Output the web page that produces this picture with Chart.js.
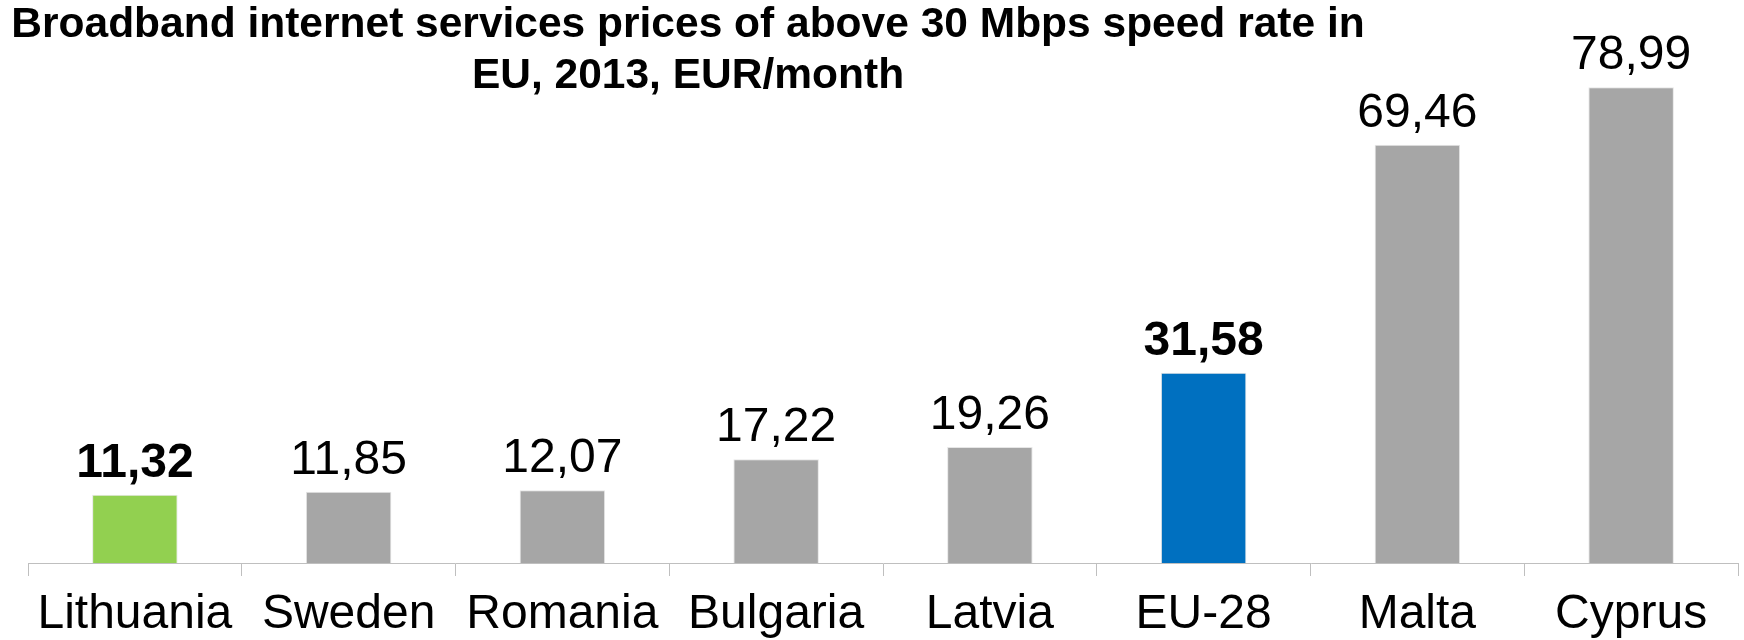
<!DOCTYPE html>
<html>
<head>
<meta charset="utf-8">
<script src="https://cdn.jsdelivr.net/npm/chart.js@4"></script>
<style>
  body { margin: 0; background: #fff; }
</style>
</head>
<body>
<canvas id="price-chart" width="1744" height="640"></canvas>
<script>
const countries = ["Lithuania", "Sweden", "Romania", "Bulgaria", "Latvia", "EU-28", "Malta", "Cyprus"];
const prices = [11.32, 11.85, 12.07, 17.22, 19.26, 31.58, 69.46, 78.99];
const highlighted = ["Lithuania", "EU-28"];
const titleLines = [
  "Broadband internet services prices of above 30 Mbps speed rate in",
  "EU, 2013, EUR/month",
];

const barColors = countries.map((c) =>
  c === "Lithuania" ? "#92d050" : c === "EU-28" ? "#0070c0" : "#a6a6a6"
);

// draws the two title lines, offset left like the original
const titlePlugin = {
  id: "offsetTitle",
  afterDraw(chart) {
    const ctx = chart.ctx;
    ctx.save();
    ctx.font = "bold 42.5px 'Liberation Sans', Arial, sans-serif";
    ctx.fillStyle = "#000";
    ctx.textAlign = "center";
    ctx.textBaseline = "middle";
    titleLines.forEach((line, i) => {
      ctx.fillText(line, 688, 25 + i * 51);
    });
    ctx.restore();
  },
};

// value labels above bars, comma decimals
const valueLabels = {
  id: "valueLabels",
  afterDatasetsDraw(chart) {
    const ctx = chart.ctx;
    const meta = chart.getDatasetMeta(0);
    ctx.save();
    ctx.fillStyle = "#000";
    ctx.textAlign = "center";
    ctx.textBaseline = "alphabetic";
    meta.data.forEach((bar, i) => {
      const bold = highlighted.includes(countries[i]);
      ctx.font = (bold ? "bold " : "") + "48px 'Liberation Sans', Arial, sans-serif";
      ctx.fillText(prices[i].toFixed(2).replace(".", ","), bar.x, bar.y - 18);
    });
    ctx.restore();
  },
};

new Chart(document.getElementById("price-chart"), {
  type: "bar",
  data: {
    labels: countries,
    datasets: [
      {
        data: prices,
        backgroundColor: barColors,
        borderColor: "#e6e6e6",
        borderWidth: 1,
        barPercentage: 0.4,
        categoryPercentage: 1,
      },
    ],
  },
  options: {
    responsive: false,
    animation: false,
    layout: {
      padding: { left: 28, right: 6, top: 0, bottom: 0 },
    },
    plugins: {
      legend: { display: false },
      tooltip: { enabled: false },
    },
    scales: {
      x: {
        afterFit(scale) {
          scale.height = 77;
        },
        grid: {
          display: true,
          drawOnChartArea: false,
          drawTicks: true,
          tickLength: 13,
          offset: true,
          color: "#bfbfbf",
        },
        border: { display: true, color: "#bfbfbf" },
        ticks: {
          color: "#000",
          padding: 10,
          maxRotation: 0,
          font: { family: "'Liberation Sans', Arial, sans-serif", size: 48 },
        },
      },
      y: {
        display: false,
        min: 0,
        max: 93.5,
      },
    },
  },
  plugins: [titlePlugin, valueLabels],
});
</script>
</body>
</html>
